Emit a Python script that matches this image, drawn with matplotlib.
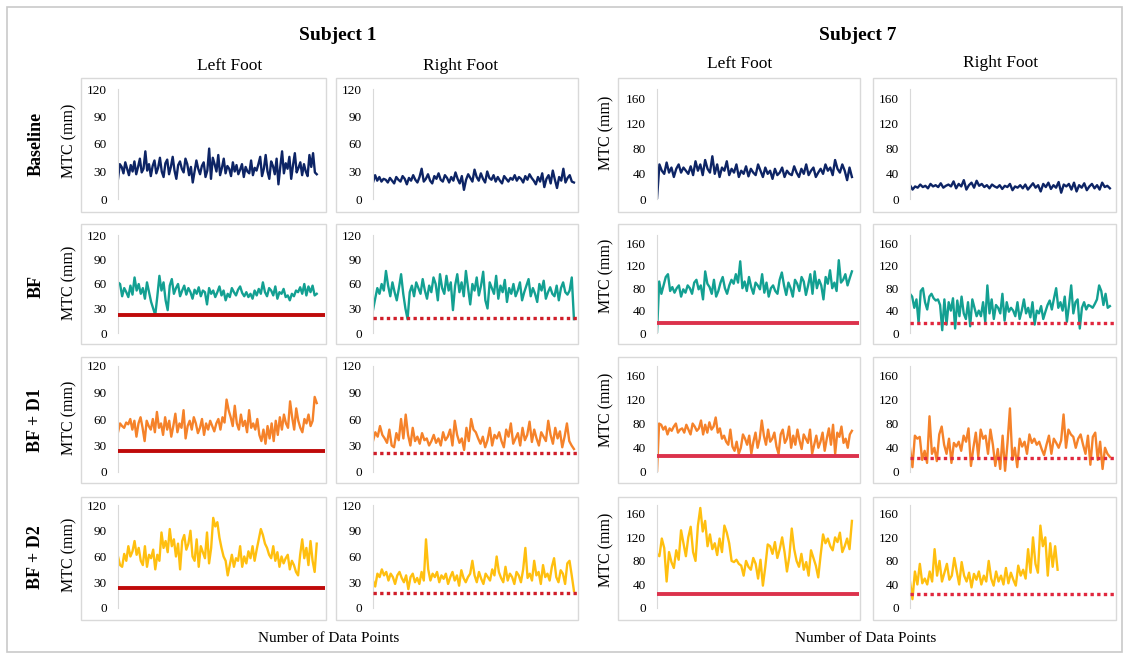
import numpy as np
import matplotlib.pyplot as plt
from matplotlib.patches import Rectangle

plt.rcParams['font.family'] = ['Liberation Serif', 'DejaVu Serif']

W, H = 1129, 659

ROW_NAMES = ["Baseline", "BF", "BF + D1", "BF + D2"]
FOOT_NAMES = ["Left Foot", "Right Foot"]
SUBJECTS = ["Subject 1", "Subject 7"]

# Minimum toe clearance per stride (mm), subject 1
S1_LEFT_BASE = [22, 38, 35, 28, 40, 33, 26, 37, 30, 41, 27, 35, 44, 29, 33, 52, 31, 38, 25, 36,
                42, 28, 34, 45, 30, 24, 39, 43, 27, 35, 46, 31, 22, 37, 41, 33, 29, 44, 38, 26,
                35, 18, 30, 42, 33, 27, 36, 40, 24, 31, 55, 22, 45, 38, 30, 48, 26, 34, 44, 28,
                36, 33, 25, 40, 30, 37, 27, 32, 38, 24, 35, 30, 28, 42, 26, 34, 31, 38, 46, 25,
                33, 48, 30, 22, 41, 36, 27, 44, 16, 35, 52, 28, 39, 33, 46, 22, 37, 50, 29, 34,
                40, 26, 38, 30, 25, 48, 35, 50, 29, 27]
S1_RIGHT_BASE = [18, 26, 20, 24, 19, 22, 21, 18, 23, 20, 17, 24, 21, 19, 25, 22, 16, 23, 20, 26,
                 21, 18, 24, 33, 19, 22, 27, 20, 17, 25, 22, 28, 21, 19, 26, 23, 18, 24, 20, 29,
                 22, 17, 25, 10, 21, 27, 23, 19, 32, 24, 20, 28, 22, 18, 30, 23, 21, 26, 19, 24,
                 20, 17, 25, 22, 19, 23, 21, 26, 20, 24, 22, 18, 25, 21, 27, 23, 20, 16, 24, 19,
                 28, 13, 22, 26, 17, 31, 21, 12, 24, 20, 33, 18, 23, 26, 19, 18]
S1_LEFT_BF = [62, 60, 45, 55, 50, 44, 58, 47, 68, 52, 60, 48, 55, 42, 62, 50, 38, 30, 22, 45,
              70, 52, 62, 40, 28, 58, 66, 48, 55, 60, 45, 52, 58, 47, 55, 50, 42, 53, 48, 56,
              45, 52, 50, 35, 55, 48, 52, 44, 50, 57, 46, 52, 40, 48, 44, 55, 50, 46, 53, 57,
              49, 45, 50, 44, 48, 42, 52, 46, 54, 48, 62, 50, 45, 55, 52, 46, 57, 42, 50, 48,
              54, 44, 46, 40, 48, 45, 52, 50, 56, 48, 60, 46, 57, 50, 58, 46, 48]
S1_RIGHT_BF = [28, 42, 55, 48, 60, 52, 76, 58, 45, 62, 50, 40, 55, 72, 48, 30, 17, 50, 58, 45,
               62, 55, 48, 66, 52, 42, 58, 50, 68, 60, 40, 72, 55, 48, 70, 52, 62, 28, 58, 72,
               50, 62, 45, 76, 55, 35, 60, 52, 68, 46, 58, 75, 40, 30, 62, 55, 48, 70, 42, 58,
               50, 65, 38, 55, 48, 60, 45, 52, 62, 40, 50, 58, 66, 45, 55, 48, 38, 60, 52, 64,
               42, 50, 56, 48, 45, 58, 40, 55, 62, 50, 47, 52, 68, 17]
S1_LEFT_D1 = [45, 55, 52, 50, 56, 54, 60, 48, 58, 40, 55, 62, 50, 35, 58, 52, 48, 60, 45, 68,
              50, 55, 42, 62, 48, 58, 40, 52, 66, 45, 55, 50, 70, 38, 52, 58, 48, 62, 55, 44,
              50, 60, 42, 55, 48, 58, 52, 46, 55, 60, 48, 62, 56, 82, 70, 62, 52, 75, 55, 48,
              65, 52, 58, 45, 70, 50, 55, 48, 60, 42, 35, 48, 32, 52, 38, 55, 35, 58, 42, 62,
              48, 65, 55, 50, 80, 62, 48, 72, 58, 50, 45, 60, 55, 65, 52, 58, 85, 78]
S1_RIGHT_D1 = [35, 45, 40, 52, 42, 38, 33, 48, 30, 28, 44, 36, 60, 38, 65, 42, 30, 50, 35, 40,
               32, 44, 36, 38, 30, 35, 42, 33, 38, 30, 45, 36, 40, 48, 30, 58, 42, 33, 38, 25,
               50, 35, 60, 48, 45, 38, 32, 40, 28, 36, 50, 30, 42, 38, 45, 35, 28, 48, 40, 55,
               32, 38, 44, 30, 50, 36, 42, 57, 34, 48, 38, 30, 45, 40, 35, 58, 42, 32, 50, 38,
               46, 28, 40, 55, 35, 30, 26]
S1_LEFT_D2 = [60, 50, 48, 63, 55, 72, 60, 66, 78, 62, 70, 55, 50, 72, 48, 62, 58, 68, 45, 62,
              55, 88, 70, 78, 65, 92, 72, 80, 60, 75, 45, 78, 85, 68, 75, 90, 60, 55, 80, 48,
              72, 65, 58, 88, 52, 70, 105, 95, 100, 82, 70, 60, 55, 38, 50, 62, 48, 58, 55, 72,
              48, 60, 52, 66, 58, 72, 55, 68, 80, 92, 85, 75, 70, 62, 58, 72, 55, 65, 48, 60,
              52, 58, 62, 45, 55, 50, 42, 38, 62, 80, 58, 70, 50, 78, 55, 42, 75]
S1_RIGHT_D2 = [32, 25, 40, 36, 45, 38, 42, 32, 40, 36, 28, 38, 42, 35, 30, 38, 22, 36, 40, 30,
               35, 28, 42, 32, 80, 45, 32, 40, 36, 42, 30, 38, 34, 40, 28, 36, 42, 32, 38, 26,
               44, 35, 30, 36, 40, 55, 38, 30, 42, 34, 28, 40, 36, 32, 45, 38, 60, 42, 35, 30,
               48, 32, 40, 36, 28, 42, 38, 30, 45, 70, 35, 40, 32, 55, 38, 42, 28, 50, 36, 40,
               32, 48, 58, 36, 30, 44, 40, 28, 52, 55, 38, 20]

# Minimum toe clearance per stride (mm), subject 7
S7_LEFT_BASE = [0, 55, 45, 40, 58, 42, 50, 35, 48, 55, 42, 50, 45, 40, 52, 38, 60, 45, 55, 38,
                62, 48, 42, 68, 40, 55, 35, 50, 45, 60, 38, 48, 42, 55, 35, 45, 40, 52, 36, 48,
                42, 38, 55, 45, 35, 50, 40, 45, 32, 48, 38, 42, 50, 35, 45, 40, 38, 52, 42, 35,
                48, 40, 55, 38, 45, 50, 35, 42, 48, 40, 55, 45, 50, 38, 62, 48, 42, 55, 45, 30,
                50, 35]
S7_RIGHT_BASE = [22, 15, 20, 18, 23, 19, 21, 17, 24, 20, 22, 19, 25, 18, 21, 23, 20, 28, 17, 24,
                 20, 30, 15, 22, 26, 18, 29, 21, 24, 19, 22, 17, 23, 20, 18, 22, 16, 21, 19, 24,
                 14, 20, 18, 22, 17, 23, 15, 20, 25, 18, 22, 12, 24, 19, 26, 16, 22, 18, 27, 10,
                 23, 20, 24, 15, 26, 12, 22, 18, 25, 14, 20, 24, 17, 22, 15, 26, 19, 21, 17]
S7_LEFT_BF = [0, 92, 70, 85, 100, 105, 75, 82, 72, 80, 85, 65, 78, 72, 85, 80, 70, 90, 95, 78,
              85, 60, 110, 88, 82, 70, 95, 65, 75, 90, 100, 80, 70, 85, 95, 88, 105, 90, 128, 80,
              92, 75, 100, 82, 70, 90, 85, 78, 105, 72, 90, 65, 80, 85, 75, 70, 95, 108, 85, 68,
              90, 80, 65, 95, 88, 75, 100, 92, 68, 85, 105, 70, 110, 80, 95, 85, 60, 100, 88, 112,
              80, 90, 75, 130, 90, 95, 105, 85, 98, 110]
S7_RIGHT_BF = [70, 65, 45, 60, 18, 75, 80, 55, 42, 65, 70, 62, 58, 60, 50, 5, 60, 15, 55, 40,
               62, 8, 58, 30, 65, 35, 25, 55, 12, 60, 45, 30, 40, 30, 55, 20, 85, 35, 60, 25,
               50, 45, 35, 70, 22, 55, 38, 45, 40, 30, 55, 25, 40, 60, 35, 45, 28, 55, 15, 40,
               35, 48, 25, 38, 50, 58, 42, 62, 80, 45, 55, 40, 65, 20, 50, 85, 35, 55, 60, 8,
               45, 55, 42, 50, 48, 45, 52, 60, 85, 75, 50, 70, 45, 48]
S7_LEFT_D1 = [0, 80, 78, 70, 75, 62, 72, 68, 75, 80, 65, 70, 72, 65, 78, 70, 62, 80, 75, 68,
              72, 85, 62, 78, 65, 82, 70, 75, 90, 65, 72, 55, 60, 50, 45, 70, 42, 35, 50, 30,
              40, 62, 55, 45, 60, 30, 50, 65, 40, 55, 85, 60, 45, 70, 50, 55, 65, 42, 30, 62,
              70, 48, 55, 75, 40, 60, 45, 70, 52, 38, 62, 55, 48, 70, 30, 45, 60, 40, 50, 65,
              35, 55, 72, 45, 78, 30, 65, 58, 75, 48, 55, 40, 62, 68]
S7_RIGHT_D1 = [40, 8, 60, 55, 58, 20, 35, 15, 92, 30, 40, 18, 62, 75, 45, 30, 55, 15, 48, 42,
               50, 35, 60, 50, 72, 10, 40, 65, 25, 70, 55, 60, 30, 70, 45, 10, 38, 5, 60, 2,
               48, 105, 20, 40, 8, 55, 42, 50, 30, 62, 48, 55, 45, 50, 38, 28, 45, 60, 30, 55,
               48, 40, 52, 95, 40, 70, 62, 58, 40, 55, 62, 45, 30, 60, 12, 58, 65, 20, 50, 5,
               40, 30, 25]
S7_LEFT_D2 = [92, 88, 118, 102, 45, 95, 78, 68, 98, 82, 132, 110, 88, 120, 138, 95, 80, 140, 170, 130,
              148, 105, 125, 100, 110, 90, 118, 95, 140, 128, 110, 80, 78, 82, 75, 72, 55, 80, 70, 65,
              85, 75, 50, 82, 38, 70, 108, 105, 92, 112, 85, 100, 120, 95, 62, 88, 135, 100, 80, 70,
              92, 65, 78, 55, 98, 85, 72, 52, 90, 125, 110, 118, 105, 98, 120, 112, 128, 95, 105, 118,
              100, 148]
S7_RIGHT_D2 = [45, 15, 62, 40, 75, 42, 50, 40, 62, 45, 100, 55, 80, 45, 60, 75, 48, 55, 85, 62,
               40, 78, 55, 45, 60, 35, 58, 48, 62, 40, 55, 45, 80, 50, 38, 62, 45, 55, 40, 68,
               42, 60, 48, 38, 72, 55, 65, 50, 100, 60, 120, 75, 60, 140, 105, 120, 55, 110, 70, 105,
               65]

# Threshold lines (mm) for the BF, BF + D1, BF + D2 conditions
S1_LEFT_THRESH = [22, 24, 23]
S1_RIGHT_THRESH = [18, 21.5, 17.5]
S7_LEFT_THRESH = [17, 27, 24]
S7_RIGHT_THRESH = [18, 23.5, 24]

SERIES = [
    [S1_LEFT_BASE, S1_LEFT_BF, S1_LEFT_D1, S1_LEFT_D2],
    [S1_RIGHT_BASE, S1_RIGHT_BF, S1_RIGHT_D1, S1_RIGHT_D2],
    [S7_LEFT_BASE, S7_LEFT_BF, S7_LEFT_D1, S7_LEFT_D2],
    [S7_RIGHT_BASE, S7_RIGHT_BF, S7_RIGHT_D1, S7_RIGHT_D2],
]
THRESHS = [S1_LEFT_THRESH, S1_RIGHT_THRESH, S7_LEFT_THRESH, S7_RIGHT_THRESH]

LINE_COLORS = ["#0D2465", "#13A092", "#F5822A", "#FFBF0F"]
SOLID_RED = ["#BF0A0A", "#DC324C"]
DOTTED_RED = ["#D01E2A", "#E0283E"]

# pixel layout of the panels
COL_BOX = [(81, 326), (336, 578), (618, 860), (873, 1116)]
COL_AXIS = [118, 373, 657, 910]
ROW_BOX = [(78, 212), (224, 344), (357, 483), (497, 620)]
ROW_PLOT = [(89, 199), (235, 333), (366, 472), (505, 608)]
SPAN = [[0.96] * 4, [0.985] * 4, [0.965] * 4, [0.975, 0.975, 0.975, 0.72]]


def _rect(x0, y0, x1, y1):
    return [x0 / W, 1 - y1 / H, (x1 - x0) / W, (y1 - y0) / H]


def _box(fig, x0, y0, x1, y1, color, lw=1.0):
    fig.add_artist(Rectangle((x0 / W, 1 - y1 / H), (x1 - x0) / W, (y1 - y0) / H,
                             transform=fig.transFigure, fill=False, ec=color, lw=lw))


def _text(fig, x, y, s, **kw):
    fig.text(x / W, 1 - y / H, s, ha="center", va="center", **kw)


def _panel(fig, col, row):
    bx0, bx1 = COL_BOX[col]
    by0, by1 = ROW_BOX[row]
    _box(fig, bx0, by0, bx1, by1, "#D9D9D9")
    py0, py1 = ROW_PLOT[row]
    ax = fig.add_axes(_rect(COL_AXIS[col], py0, bx1 - 1, py1))
    ax.patch.set_visible(False)
    for side in ["top", "right", "bottom"]:
        ax.spines[side].set_visible(False)
    ax.spines["left"].set_color("#D9D9D9")
    ax.set_xticks([])
    ax.tick_params(axis="y", length=0, pad=8, labelsize=9.5)
    if col < 2:
        ax.set_ylim(0, 120)
        ax.set_yticks([0, 30, 60, 90, 120])
    else:
        ax.set_ylim(0, 175)
        ax.set_yticks([0, 40, 80, 120, 160])

    vals = np.array(SERIES[col][row], dtype=float)
    x = np.arange(len(vals))
    ax.set_xlim(0, (len(vals) - 1) / SPAN[col][row])
    ax.plot(x, vals, color=LINE_COLORS[row], lw=1.7, zorder=2)

    if row > 0:
        thresh = THRESHS[col][row - 1]
        subj = col // 2
        if col % 2 == 0:
            ax.axhline(thresh, color=SOLID_RED[subj], lw=2.8, zorder=3)
        else:
            ax.axhline(thresh, color=DOTTED_RED[subj], lw=2.4, ls=(0, (1, 1)),
                       dash_capstyle="butt", zorder=3)
    return ax


def _main():
    fig = plt.figure(figsize=(W / 100, H / 100), dpi=100)
    _box(fig, 7, 7, 1122, 652, "#C9C9C9", lw=1.2)

    for col in range(4):
        for row in range(4):
            _panel(fig, col, row)

    _text(fig, 338, 36, SUBJECTS[0], fontsize=14, fontweight="bold")
    _text(fig, 858, 36, SUBJECTS[1], fontsize=14, fontweight="bold")
    for x, y, name in [(230, 66, FOOT_NAMES[0]), (461, 66, FOOT_NAMES[1]),
                       (740, 64, FOOT_NAMES[0]), (1001, 63, FOOT_NAMES[1])]:
        _text(fig, x, y, name, fontsize=12.5)

    for y, name in zip([144, 286, 420, 557], ROW_NAMES):
        _text(fig, 36, y, name, fontsize=13, fontweight="bold", rotation=90)
    for y in [141, 283, 418, 555]:
        _text(fig, 69, y, "MTC (mm)", fontsize=11.5, rotation=90)
    for y in [133, 276, 410, 550]:
        _text(fig, 606, y, "MTC (mm)", fontsize=11.5, rotation=90)

    _text(fig, 329, 639, "Number of Data Points", fontsize=11)
    _text(fig, 866, 639, "Number of Data Points", fontsize=11)

    fig.savefig("out.png", dpi=100)


if __name__ == "__main__":
    _main()
